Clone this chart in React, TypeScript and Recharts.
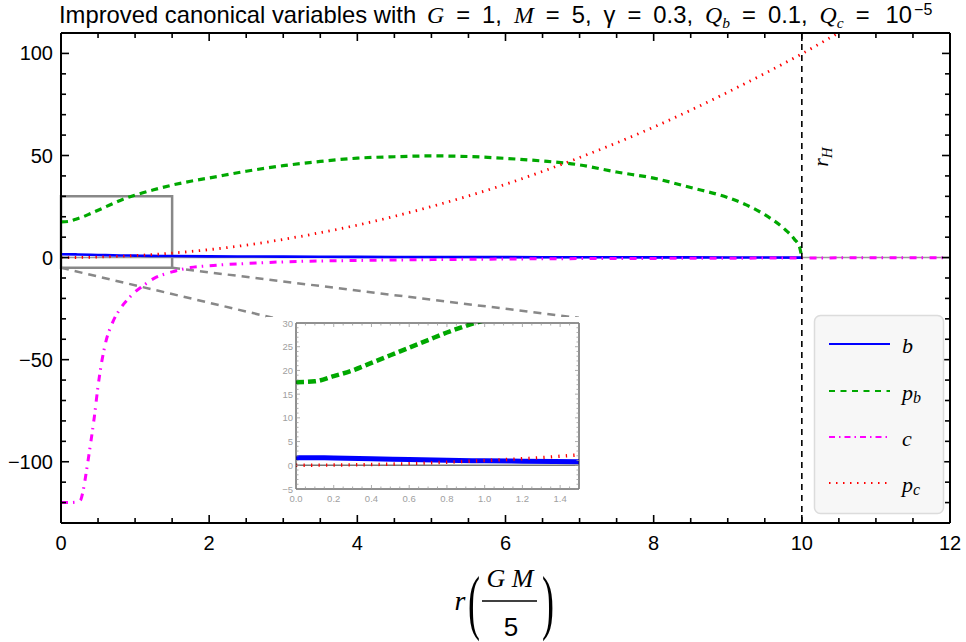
import React from 'react';
import { LineChart, Line, XAxis, YAxis, ReferenceLine, ReferenceArea } from 'recharts';

// ---- data ----
const rB = [0, 0.2, 0.4, 0.6, 0.8, 1.0, 1.2, 1.5, 2, 3, 4, 5, 6, 7, 8, 9, 10];
const bVals = [1.6, 1.55, 1.4, 1.2, 1.05, 0.95, 0.85, 0.75, 0.6, 0.45, 0.35, 0.28, 0.22, 0.16, 0.11, 0.06, 0.0];

const rPb = [0, 0.1, 0.2, 0.3, 0.4, 0.5, 0.6, 0.7, 0.8, 0.9, 1.0, 1.25, 1.5, 1.75, 2, 2.5, 3, 3.5, 4, 4.5, 5, 5.5, 6, 6.5, 7, 7.5, 8, 8.5, 9, 9.25, 9.5, 9.75, 9.9, 9.97, 10];
const pbVals = [17.5, 17.7, 18.8, 20.0, 21.6, 23.2, 24.8, 26.4, 28.0, 29.4, 30.6, 33.2, 35.5, 37.4, 39.0, 42.3, 45.0, 47.1, 48.7, 49.4, 49.8, 49.5, 48.6, 47.3, 45.4, 41.9, 38.9, 34.3, 29.4, 25.8, 21.0, 14.5, 9.0, 5.0, 0];

const rC = [0, 0.1, 0.2, 0.26, 0.3, 0.35, 0.4, 0.45, 0.5, 0.55, 0.6, 0.7, 0.8, 0.9, 1.0, 1.1, 1.25, 1.5, 1.75, 2, 2.5, 3, 4, 5, 6, 7, 8, 9, 10, 11, 12];
const cVals = [-120, -120, -119.8, -119, -114, -103, -91, -78, -63, -51, -42, -31.5, -25, -20.5, -16.8, -14, -10.3, -7.0, -4.9, -4.0, -2.9, -2.1, -1.4, -1.0, -0.7, -0.5, -0.4, -0.3, -0.2, -0.1, -0.1];

const rPc = [0, 0.2, 0.4, 0.6, 0.8, 1.0, 1.25, 1.5, 2, 2.5, 3, 3.5, 4, 4.5, 5, 5.5, 6, 6.5, 7, 7.5, 8, 8.5, 9, 9.5, 10, 10.5, 10.8];
const pcVals = [0, 0.05, 0.15, 0.35, 0.65, 1.0, 1.5, 2.2, 3.9, 6.1, 8.9, 12.2, 15.9, 20.2, 25.0, 30.2, 35.9, 42.2, 49.0, 56.2, 63.9, 72.2, 81.0, 90.2, 99.8, 110.2, 116.5];

// ticks
const MAIN_X_TICKS = [0, 0.5, 1, 1.5, 2, 2.5, 3, 3.5, 4, 4.5, 5, 5.5, 6, 6.5, 7, 7.5, 8, 8.5, 9, 9.5, 10, 10.5, 11, 11.5, 12];
const MAIN_X_LABELS = [0, 2, 4, 6, 8, 10, 12];
const MAIN_Y_TICKS = [-120, -110, -100, -90, -80, -70, -60, -50, -40, -30, -20, -10, 0, 10, 20, 30, 40, 50, 60, 70, 80, 90, 100];
const MAIN_Y_LABELS = [-100, -50, 0, 50, 100];
const INSET_X_LABELS = [0, 0.2, 0.4, 0.6, 0.8, 1.0, 1.2, 1.4];
const INSET_X_TICKS = Array.from({ length: 31 }, (_, i) => Math.round(i * 5) / 100);
const INSET_Y_LABELS = [-5, 0, 5, 10, 15, 20, 25, 30];
const INSET_Y_TICKS = Array.from({ length: 36 }, (_, i) => i - 5);

// zoom window and the connector end points (in main-chart units)
const ZOOM_BOX = { x1: 0, x2: 1.5, y1: -5, y2: 30 };
const CONNECT_END = [{ x: 2.86, y: -29.5 }, { x: 6.99, y: -29.5 }];

const rows = (rs: number[], vs: number[], key: string) => rs.map((r, i) => ({ r, [key]: vs[i] }));
const dataB = rows(rB, bVals, 'b');
const dataPb = rows(rPb, pbVals, 'pb');
const dataC = rows(rC, cVals, 'c');
const dataPc = rows(rPc, pcVals, 'pc');

const SANS = '"Liberation Sans", Arial, sans-serif';
const SERIF = '"Liberation Serif", "Times New Roman", serif';

const minus = (v: number) => (v < 0 ? '\u2212' + Math.abs(v) : String(v));
const minus1 = (v: number) => (v < 0 ? '\u2212' + Math.abs(v) : v.toFixed(1));

// ---- layout ----
const MAIN_W = 966, MAIN_H = 642;
const MAIN_M = { top: 32, right: 15, bottom: 89, left: 11 };
const MAIN_XAXIS_H = 30, MAIN_YAXIS_W = 50;
const MAIN_PLOT = {
  left: MAIN_M.left + MAIN_YAXIS_W,
  right: MAIN_W - MAIN_M.right - 1,
  top: MAIN_M.top + 1,
  bottom: MAIN_H - MAIN_M.bottom - MAIN_XAXIS_H,
};
const INS_W = 320, INS_H = 190;
const INS_M = { top: 5, right: 6, bottom: 0, left: 0 };
const INS_XAXIS_H = 18, INS_YAXIS_W = 30;
const INS_PLOT = {
  left: INS_M.left + INS_YAXIS_W,
  right: INS_W - INS_M.right - 1,
  top: INS_M.top + 1,
  bottom: INS_H - INS_M.bottom - INS_XAXIS_H,
};

type TickOpts = {
  labels: number[];
  major: number;
  minor: number;
  color: string;
  width: number;
  gap: number;
  fontSize: number;
  textColor: string;
  fmt: (v: number) => string;
};

const makeTick = (side: 'bottom' | 'top' | 'left' | 'right', o: TickOpts, pos: number) => (props: any) => {
  const { payload } = props;
  const v = payload.value as number;
  const isMajor = o.labels.some((l) => Math.abs(l - v) < 1e-6);
  const len = isMajor ? o.major : o.minor;
  const horizontal = side === 'bottom' || side === 'top';
  const c = horizontal ? props.x : props.y;
  let x1 = c, x2 = c, y1 = c, y2 = c;
  if (side === 'bottom') { y1 = pos; y2 = pos - len; }
  if (side === 'top') { y1 = pos; y2 = pos + len; }
  if (side === 'left') { x1 = pos; x2 = pos + len; }
  if (side === 'right') { x1 = pos; x2 = pos - len; }
  return (
    <g>
      <line x1={x1} y1={y1} x2={x2} y2={y2} stroke={o.color} strokeWidth={o.width} />
      {isMajor && side === 'bottom' && (
        <text x={c} y={pos + o.gap} textAnchor="middle" dominantBaseline="central" fontFamily={SANS} fontSize={o.fontSize} fill={o.textColor}>
          {o.fmt(v)}
        </text>
      )}
      {isMajor && side === 'left' && (
        <text x={pos - o.gap} y={c} textAnchor="end" dominantBaseline="central" fontFamily={SANS} fontSize={o.fontSize} fill={o.textColor}>
          {o.fmt(v)}
        </text>
      )}
    </g>
  );
};

const mainXOpts: TickOpts = { labels: MAIN_X_LABELS, major: 8, minor: 5, color: '#000', width: 1.6, gap: 20, fontSize: 20, textColor: '#000', fmt: minus };
const mainYOpts: TickOpts = { labels: MAIN_Y_LABELS, major: 8, minor: 5, color: '#000', width: 1.6, gap: 8, fontSize: 20, textColor: '#000', fmt: minus };
const insXOpts: TickOpts = { labels: INSET_X_LABELS, major: 4, minor: 2.5, color: '#999', width: 0.8, gap: 9, fontSize: 9.5, textColor: '#a0a0a0', fmt: minus1 };
const insYOpts: TickOpts = { labels: INSET_Y_LABELS, major: 4, minor: 2.5, color: '#999', width: 0.8, gap: 3, fontSize: 9.5, textColor: '#a0a0a0', fmt: minus };

const mainBottom = makeTick('bottom', mainXOpts, MAIN_PLOT.bottom);
const mainTop = makeTick('top', mainXOpts, MAIN_PLOT.top);
const mainLeft = makeTick('left', mainYOpts, MAIN_PLOT.left);
const mainRight = makeTick('right', mainYOpts, MAIN_PLOT.right);
const insBottom = makeTick('bottom', insXOpts, INS_PLOT.bottom);
const insTop = makeTick('top', insXOpts, INS_PLOT.top);
const insLeft = makeTick('left', insYOpts, INS_PLOT.left);
const insRight = makeTick('right', insYOpts, INS_PLOT.right);

const frame = { stroke: '#000', strokeWidth: 2 };
const insFrame = { stroke: '#222', strokeWidth: 1 };

function MainChart() {
  return (
    <LineChart width={MAIN_W} height={MAIN_H} margin={MAIN_M}>
      <XAxis xAxisId="b" dataKey="r" type="number" domain={[0, 12]} ticks={MAIN_X_TICKS} interval={0} allowDataOverflow tickSize={0} tickMargin={0} tickLine={false} axisLine={frame} tick={mainBottom} height={MAIN_XAXIS_H} />
      <XAxis xAxisId="t" dataKey="r" type="number" orientation="top" domain={[0, 12]} ticks={MAIN_X_TICKS} interval={0} allowDataOverflow tickSize={0} tickMargin={0} tickLine={false} axisLine={frame} tick={mainTop} height={1} />
      <YAxis yAxisId="l" type="number" domain={[-130, 110]} ticks={MAIN_Y_TICKS} interval={0} allowDataOverflow tickSize={0} tickMargin={0} tickLine={false} axisLine={frame} tick={mainLeft} width={MAIN_YAXIS_W} />
      <YAxis yAxisId="r" type="number" orientation="right" domain={[-130, 110]} ticks={MAIN_Y_TICKS} interval={0} allowDataOverflow tickSize={0} tickMargin={0} tickLine={false} axisLine={frame} tick={mainRight} width={1} />
      <ReferenceLine xAxisId="b" yAxisId="l" y={0} stroke="#999" strokeWidth={1.5} />
      <ReferenceArea xAxisId="b" yAxisId="l" x1={ZOOM_BOX.x1} x2={ZOOM_BOX.x2} y1={ZOOM_BOX.y1} y2={ZOOM_BOX.y2} fill="none" fillOpacity={0} stroke="#888" strokeWidth={2.5} />
      <ReferenceLine xAxisId="b" yAxisId="l" segment={[{ x: ZOOM_BOX.x1, y: ZOOM_BOX.y1 }, CONNECT_END[0]]} stroke="#888" strokeWidth={2.5} strokeDasharray="8 6" />
      <ReferenceLine xAxisId="b" yAxisId="l" segment={[{ x: ZOOM_BOX.x2, y: ZOOM_BOX.y1 }, CONNECT_END[1]]} stroke="#888" strokeWidth={2.5} strokeDasharray="8 6" />
      <Line xAxisId="b" yAxisId="l" data={dataB} dataKey="b" type="monotone" stroke="#0000ff" strokeWidth={2.6} dot={false} activeDot={false} isAnimationActive={false} />
      <Line xAxisId="b" yAxisId="l" data={dataPb} dataKey="pb" type="monotone" stroke="#00a800" strokeWidth={3.2} strokeDasharray="7 5" dot={false} activeDot={false} isAnimationActive={false} />
      <Line xAxisId="b" yAxisId="l" data={dataC} dataKey="c" type="monotone" stroke="#ff00ff" strokeWidth={3} strokeDasharray="7 5 1.5 6.5" dot={false} activeDot={false} isAnimationActive={false} />
      <Line xAxisId="b" yAxisId="l" data={dataPc} dataKey="pc" type="monotone" stroke="#ff0000" strokeWidth={2.8} strokeDasharray="1.4 5.5" dot={false} activeDot={false} isAnimationActive={false} />
      <ReferenceLine xAxisId="b" yAxisId="l" x={10} stroke="#000" strokeWidth={1.6} strokeDasharray="6 5" />
    </LineChart>
  );
}

function InsetChart() {
  return (
    <LineChart width={INS_W} height={INS_H} margin={INS_M}>
      <XAxis xAxisId="b" dataKey="r" type="number" domain={[0, 1.5]} ticks={INSET_X_TICKS} interval={0} allowDataOverflow tickSize={0} tickMargin={0} tickLine={false} axisLine={insFrame} tick={insBottom} height={INS_XAXIS_H} />
      <XAxis xAxisId="t" dataKey="r" type="number" orientation="top" domain={[0, 1.5]} ticks={INSET_X_TICKS} interval={0} allowDataOverflow tickSize={0} tickMargin={0} tickLine={false} axisLine={insFrame} tick={insTop} height={1} />
      <YAxis yAxisId="l" type="number" domain={[-5, 30]} ticks={INSET_Y_TICKS} interval={0} allowDataOverflow tickSize={0} tickMargin={0} tickLine={false} axisLine={insFrame} tick={insLeft} width={INS_YAXIS_W} />
      <YAxis yAxisId="r" type="number" orientation="right" domain={[-5, 30]} ticks={INSET_Y_TICKS} interval={0} allowDataOverflow tickSize={0} tickMargin={0} tickLine={false} axisLine={insFrame} tick={insRight} width={1} />
      <ReferenceLine xAxisId="b" yAxisId="l" y={0} stroke="#777" strokeWidth={1.5} />
      <Line xAxisId="b" yAxisId="l" data={dataB} dataKey="b" type="monotone" stroke="#0000ff" strokeWidth={5} dot={false} activeDot={false} isAnimationActive={false} />
      <Line xAxisId="b" yAxisId="l" data={dataPb} dataKey="pb" type="monotone" stroke="#00a800" strokeWidth={4.5} strokeDasharray="8 4" dot={false} activeDot={false} isAnimationActive={false} />
      <Line xAxisId="b" yAxisId="l" data={dataC} dataKey="c" type="monotone" stroke="#ff00ff" strokeWidth={4} strokeDasharray="8 4 2 4" dot={false} activeDot={false} isAnimationActive={false} />
      <Line xAxisId="b" yAxisId="l" data={dataPc} dataKey="pc" type="monotone" stroke="#ff0000" strokeWidth={3.4} strokeDasharray="1.3 6.2" dot={false} activeDot={false} isAnimationActive={false} />
    </LineChart>
  );
}

const LEGEND = [
  { key: 'b', name: 'b', sub: '', color: '#0000ff', dash: undefined as string | undefined, y: 344 },
  { key: 'pb', name: 'p', sub: 'b', color: '#00a800', dash: '6 5.5', y: 391 },
  { key: 'c', name: 'c', sub: '', color: '#ff00ff', dash: '6 4 1.5 4', y: 437 },
  { key: 'pc', name: 'p', sub: 'c', color: '#ff0000', dash: '1.5 5.5', y: 483 },
];

const it = { fontFamily: SERIF, fontStyle: 'italic' as const };
const G = 12; // gap between title math tokens

function Overlay() {
  return (
    <svg width={966} height={642} style={{ position: 'absolute', left: 0, top: 0, pointerEvents: 'none' }}>
      {/* title */}
      <text y={23} fontFamily={SANS} fontSize={23.8} fill="#000">
        <tspan x={59}>Improved canonical variables with</tspan>
        <tspan x={427} {...it}>G</tspan>
        <tspan dx={G}>=</tspan>
        <tspan dx={G}>1,</tspan>
        <tspan dx={G} {...it}>M</tspan>
        <tspan dx={G}>=</tspan>
        <tspan dx={G}>5,</tspan>
        <tspan dx={G}>γ</tspan>
        <tspan dx={G}>=</tspan>
        <tspan dx={G}>0.3,</tspan>
        <tspan dx={G} {...it}>Q</tspan>
        <tspan {...it} fontSize={15.5} dy={5}>b</tspan>
        <tspan dx={G} dy={-5}>=</tspan>
        <tspan dx={G}>0.1,</tspan>
        <tspan dx={G} {...it}>Q</tspan>
        <tspan {...it} fontSize={15.5} dy={5}>c</tspan>
        <tspan dx={G} dy={-5}>=</tspan>
        <tspan dx={G + 4}>10</tspan>
        <tspan fontSize={16} dx={2} dy={-8.5}>{'\u22125'}</tspan>
      </text>

      {/* x axis label r(GM/5) */}
      <text x={460} y={610} textAnchor="middle" {...it} fontSize={28} fill="#000">r</text>
      <text transform="translate(474,626) scale(0.5,1)" textAnchor="middle" fontFamily={SERIF} fontSize={72} fill="#000">(</text>
      <text x={510} y={587} textAnchor="middle" {...it} fontSize={26} fill="#000">G M</text>
      <line x1={482} x2={537} y1={601} y2={601} stroke="#000" strokeWidth={1.4} />
      <text x={511} y={636} textAnchor="middle" fontFamily={SANS} fontSize={26} fill="#000">5</text>
      <text transform="translate(548,626) scale(0.5,1)" textAnchor="middle" fontFamily={SERIF} fontSize={72} fill="#000">)</text>

      {/* r_H */}
      <text transform="translate(828,157) rotate(-90)" textAnchor="middle" {...it} fontSize={22} fill="#000">
        <tspan>r</tspan>
        <tspan fontSize={15} dy={4}>H</tspan>
      </text>

      {/* legend */}
      <rect x={814.5} y={315.5} width={129} height={198} rx={6} ry={6} fill="#f7f7f7" stroke="#dcdcdc" strokeWidth={1.5} />
      {LEGEND.map((l) => (
        <g key={l.key}>
          <line x1={829} x2={890} y1={l.y} y2={l.y} stroke={l.color} strokeWidth={2} strokeDasharray={l.dash} />
          <text x={902} y={l.y + 9} {...it} fontSize={22} fill="#000">
            <tspan>{l.name}</tspan>
            {l.sub && <tspan fontSize={16} dy={3}>{l.sub}</tspan>}
          </text>
        </g>
      ))}
    </svg>
  );
}

export default function App() {
  return (
    <div style={{ position: 'absolute', left: 0, top: 0, width: 966, height: 642, background: '#fff', overflow: 'hidden' }}>
      <div style={{ position: 'absolute', left: 0, top: 0 }}>
        <MainChart />
      </div>
      <div style={{ position: 'absolute', left: 266, top: 317, width: INS_W, height: INS_H, background: '#fff' }}>
        <InsetChart />
      </div>
      <Overlay />
    </div>
  );
}
